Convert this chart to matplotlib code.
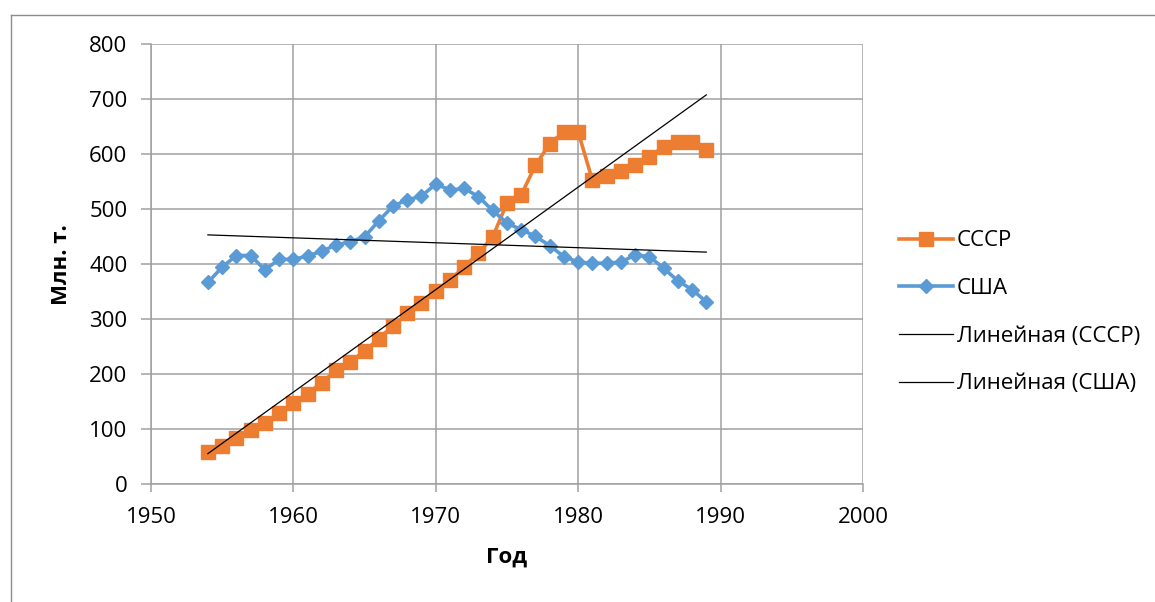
import numpy as np
import matplotlib.pyplot as plt
from matplotlib.lines import Line2D

plt.rcParams['font.family'] = ['Open Sans', 'DejaVu Sans']

years = list(range(1954, 1990))

# добыча, млн. т
ussr = [59, 70, 84, 99, 112, 129, 147, 165, 185, 207, 223, 242, 265, 288, 311, 330,
        352, 371, 396, 420, 450, 511, 526, 580, 619, 641, 641, 553, 560, 570, 580, 595,
        614, 623, 623, 607]
usa = [367, 395, 416, 416, 390, 409, 409, 415, 424, 435, 441, 450, 479, 506, 517, 524,
       546, 535, 538, 523, 498, 475, 463, 451, 434, 414, 404, 402, 402, 404, 417, 414,
       393, 370, 354, 332]

x_ticks = [1950, 1960, 1970, 1980, 1990, 2000]
y_ticks = [0, 100, 200, 300, 400, 500, 600, 700, 800]

ORANGE = "#ED7D31"
BLUE = "#5B9BD5"
GRID = "#A0A0A0"

fig = plt.figure(figsize=(11.55, 6.02), dpi=100)
ax = fig.add_axes([0.1307, 0.1955, 0.6164, 0.7309])

x = np.array(years)
ax.plot(x, ussr, color=ORANGE, lw=2.6, marker="s", ms=10, mec=ORANGE, mfc=ORANGE,
        label="СССР", zorder=3)
ax.plot(x, usa, color=BLUE, lw=2.6, marker="D", ms=7.2, mec=BLUE, mfc=BLUE,
        label="США", zorder=3)

# линейные тренды
for vals, name in [(ussr, "Линейная (СССР)"), (usa, "Линейная (США)")]:
    k, b = np.polyfit(x, vals, 1)
    ax.plot(x, k * x + b, color="black", lw=0.9, label=name, zorder=4)

ax.set_xlim(1950, 2000)
ax.set_ylim(0, 800)
ax.set_xticks(x_ticks)
ax.set_yticks(y_ticks)
ax.grid(True, color=GRID, lw=1.1)
ax.set_axisbelow(True)
for side in ["top", "right"]:
    ax.spines[side].set_visible(False)
for side in ["left", "bottom"]:
    ax.spines[side].set_color(GRID)
    ax.spines[side].set_linewidth(1.1)
ax.tick_params(axis="both", colors=GRID, labelcolor="black", labelsize=16,
               length=7, width=1.1)
ax.tick_params(axis="y", pad=10)
ax.tick_params(axis="x", pad=10, length=6)

ax.set_xlabel("Год", fontsize=16, fontweight="bold", labelpad=14)
ax.set_ylabel("Млн. т.", fontsize=16, fontweight="bold", labelpad=12)

fig.legend(loc="center left", bbox_to_anchor=(0.7705, 0.481), frameon=False,
           fontsize=16, handlelength=2.45, handletextpad=0.15, labelspacing=1.2,
           numpoints=1, borderaxespad=0)

# рамка области диаграммы
fx, fy = 11 / 1155, 1 - 15 / 602
fig.add_artist(Line2D([fx, fx], [0, fy], transform=fig.transFigure, color="#8C8C8C", lw=1))
fig.add_artist(Line2D([fx, 1], [fy, fy], transform=fig.transFigure, color="#8C8C8C", lw=1))

fig.savefig("out.png", dpi=100)
